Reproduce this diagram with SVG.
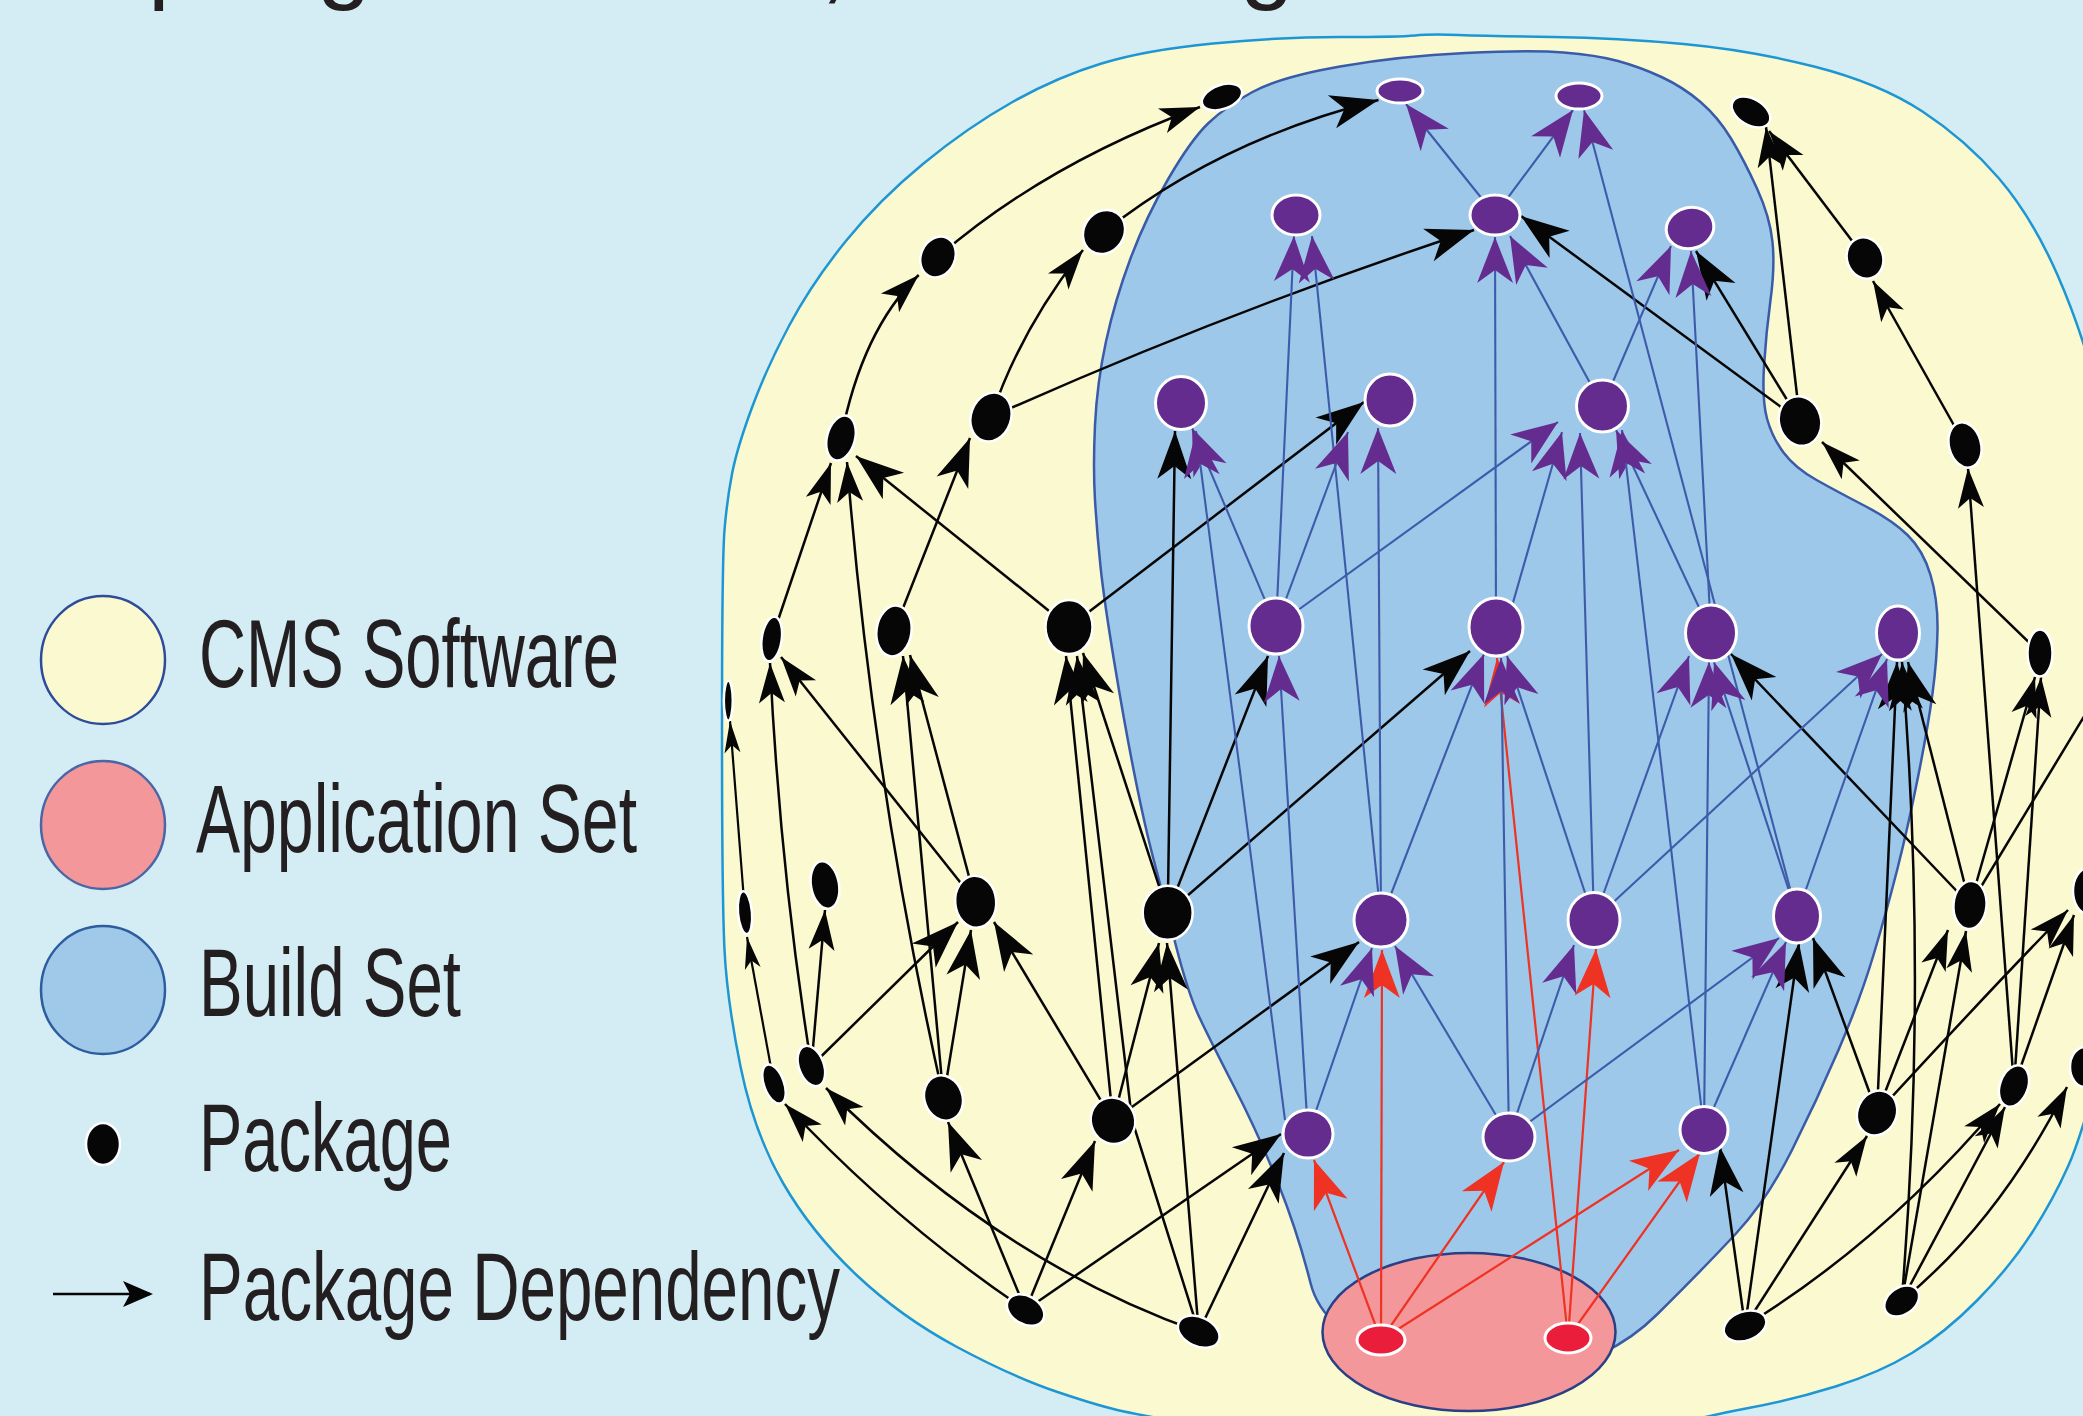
<svg xmlns="http://www.w3.org/2000/svg" width="2083" height="1416" viewBox="0 0 2083 1416">
  <style>
    .lbl { font-family: 'Liberation Sans Narrow', 'Liberation Sans', Arial, sans-serif; font-size: 97px; fill: #231F20; }
    .k  { fill: none; stroke: #060606; stroke-width: 2.5; marker-end: url(#ah); }
    .km { fill: none; stroke: #060606; stroke-width: 2.5; marker-end: url(#ahm); }
    .ks { fill: none; stroke: #060606; stroke-width: 2.2; marker-end: url(#ahs); }
    .k0 { fill: none; stroke: #060606; stroke-width: 2.5; }
    .b  { fill: none; stroke: #3E5BA9; stroke-width: 2.1; marker-end: url(#ap); }
    .r  { fill: none; stroke: #EE3224; stroke-width: 2.2; marker-end: url(#ar); }
    .pk { fill: #060606; stroke: #FFFFFF; stroke-width: 2.5; }
    .pb { fill: #652C8F; stroke: #FFFFFF; stroke-width: 3; }
    .pa { fill: #EA1D3B; stroke: #FFFFFF; stroke-width: 3; }
  </style>
  <defs>
    <marker id="ah" markerUnits="userSpaceOnUse" orient="auto" overflow="visible" markerWidth="1" markerHeight="1">
      <path d="M0,0 L-48,-17 L-35,0 L-48,17 Z" fill="#060606"/>
    </marker>
    <marker id="ahm" markerUnits="userSpaceOnUse" orient="auto" overflow="visible" markerWidth="1" markerHeight="1">
      <path d="M0,0 L-40,-13 L-30,0 L-40,13 Z" fill="#060606"/>
    </marker>
    <marker id="ahs" markerUnits="userSpaceOnUse" orient="auto" overflow="visible" markerWidth="1" markerHeight="1">
      <path d="M0,0 L-32,-8 L-24,0 L-32,8 Z" fill="#060606"/>
    </marker>
    <marker id="ap" markerUnits="userSpaceOnUse" orient="auto" overflow="visible" markerWidth="1" markerHeight="1">
      <path d="M0,0 L-46,-18 L-33,0 L-46,18 Z" fill="#652C8F"/>
    </marker>
    <marker id="ar" markerUnits="userSpaceOnUse" orient="auto" overflow="visible" markerWidth="1" markerHeight="1">
      <path d="M0,0 L-48,-18 L-35,0 L-48,18 Z" fill="#EE3224"/>
    </marker>
  </defs>

  <rect width="2083" height="1416" fill="#D4EDF4"/>

  <!-- descenders of the heading line above the frame -->
  <g id="heading" class="lbl">
    <text x="148" y="-9">p</text>
    <text x="317" y="-9">g</text>
    <text x="820" y="-9">,</text>
    <text x="1240" y="-9">g</text>
  </g>

  <!-- CMS software region -->
  <g id="cms-software">
    <path fill="#FBF9D0" stroke="#1E96D4" stroke-width="2.5" d="M724.5,950 Q722,900 722,730 Q722,560 724.5,530 Q727,500 732,474 Q737,448 752,407.5 Q767,367 789.5,325 Q812,283 845.5,241.5 Q879,200 923.5,163.5 Q968,127 1012.5,102 Q1057,77 1101.5,63.5 Q1146,50 1213,43.5 Q1280,37 1340,37 Q1400,37 1415,35.5 Q1430,34 1458.5,35 Q1487,36 1552.5,37 Q1618,38 1683.5,44 Q1749,50 1814,66.5 Q1879,83 1922.5,111.5 Q1966,140 1999,178.5 Q2032,217 2057.5,275 Q2083,333 2101.5,406.5 Q2120,480 2130,590 Q2140,700 2135,825 Q2130,950 2106.5,1041.5 Q2083,1133 2068,1166.5 Q2053,1200 2031.5,1233.5 Q2010,1267 1977.5,1300 Q1945,1333 1912,1353 Q1879,1373 1835.5,1386.5 Q1792,1400 1748.5,1408 Q1705,1416 1652.5,1430.5 Q1600,1445 1450,1445 Q1300,1445 1223,1430.5 Q1146,1416 1124,1411.5 Q1102,1407 1057.5,1392 Q1013,1377 957,1347 Q901,1317 856.5,1275 Q812,1233 783,1183 Q754,1133 740.5,1066.5 Q727,1000 724.5,950 Z"/>
  </g>

  <!-- build set region -->
  <g id="build-set">
    <path fill="#9EC8E9" stroke="#3A5BA8" stroke-width="2.5" d="M1095,500 Q1093,467 1095,425 Q1097,383 1106,341.5 Q1115,300 1130.5,258.5 Q1146,217 1168.5,178.5 Q1191,140 1208,123.5 Q1225,107 1252.5,92 Q1280,77 1340,66.5 Q1400,56 1465.5,53 Q1531,50 1563.5,52.5 Q1596,55 1618,61 Q1640,67 1661.5,77 Q1683,87 1700.5,102 Q1718,117 1731,138.5 Q1744,160 1757,188.5 Q1770,217 1772.5,242 Q1775,267 1770.5,300 Q1766,333 1764,366.5 Q1762,400 1767,418.5 Q1772,437 1783.5,452.5 Q1795,468 1816.5,480 Q1838,492 1865,506 Q1892,520 1907.5,535 Q1923,550 1930.5,575 Q1938,600 1937.5,630 Q1937,660 1932.5,693.5 Q1928,727 1918,777 Q1908,827 1897.5,868.5 Q1887,910 1873.5,955 Q1860,1000 1838.5,1050 Q1817,1100 1792,1150 Q1767,1200 1736,1233.5 Q1705,1267 1657,1314.5 Q1609,1362 1539.5,1371 Q1470,1380 1396.5,1356.5 Q1323,1333 1310.5,1283 Q1298,1233 1278,1183 Q1258,1133 1234,1086.5 Q1210,1040 1199,1016.5 Q1188,993 1175.5,944 Q1163,895 1154,861 Q1145,827 1135,777 Q1125,727 1114.5,663.5 Q1104,600 1100.5,566.5 Q1097,533 1095,500 Z"/>
  </g>

  <!-- application set region -->
  <g id="application-set">
    <ellipse cx="1469" cy="1332" rx="146.5" ry="79" fill="#F4979A" stroke="#2B3F84" stroke-width="2.5"/>
  </g>

  <!-- dependency connectors -->
  <g id="connectors">
    <!-- package dependencies, left -->
    <path class="km" d="M938,257 Q1045,164 1200,107"/>
    <path class="km" d="M841,438 Q862,330 918.7,275"/>
    <path class="k" d="M1104,232 Q1220,140 1378.5,100"/>
    <path class="km" d="M991,417 Q1020,330 1083,250"/>
    <path class="k" d="M991,417 Q1225,312 1474,230"/>
    <path class="k" d="M1069,627 L856,456"/>
    <path class="k" d="M1069,627 L1364,402"/>
    <path class="k" d="M894,631 L970,438"/>
    <path class="km" d="M771.7,639 L831,463"/>
    <path class="km" d="M943.5,1098 Q872,780 847,462"/>
    <path class="k" d="M943.5,1098 L903,656"/>
    <path class="k" d="M943.5,1098 L971,930"/>
    <path class="k" d="M975.7,901.7 L910,655"/>
    <path class="km" d="M975.7,901.7 L781,657"/>
    <path class="km" d="M811.4,1066 Q780,870 770,663"/>
    <path class="km" d="M811.4,1066 L825,910"/>
    <path class="k" d="M811.4,1066 L958,922"/>
    <path class="ks" d="M745,913 L730,721"/>
    <path class="ks" d="M774,1084 L747,937"/>
    <path class="km" d="M1025.6,1310 Q895,1222 785,1104"/>
    <path class="k" d="M1025.6,1310 L948,1122"/>
    <path class="k" d="M1025.6,1310 L1095,1141"/>
    <path class="k" d="M1025.6,1310 L1281,1134"/>
    <path class="km" d="M1198.7,1331.7 Q1000,1262 826,1088"/>
    <path class="k" d="M1198.7,1331.7 L1132,1120 L1077,656"/>
    <path class="k" d="M1198.7,1331.7 L1167,943"/>
    <path class="k" d="M1198.7,1331.7 L1284,1153"/>
    <path class="k" d="M1113,1120.7 L1066,656"/>
    <path class="k" d="M1113,1120.7 L994,922"/>
    <path class="k" d="M1113,1120.7 L1159,943"/>
    <path class="k" d="M1113,1120.7 L1359,942"/>
    <path class="k" d="M1167.7,912.7 L1083,653"/>
    <path class="k" d="M1167.7,912.7 L1175,431"/>
    <path class="k" d="M1167.7,912.7 L1268,656"/>
    <path class="k" d="M1167.7,912.7 L1470,651"/>
    <!-- package dependencies, right -->
    <path class="k" d="M1800,421 L1521,216"/>
    <path class="k" d="M1800,421 L1696,251"/>
    <path class="km" d="M1800,421 L1766,127"/>
    <path class="km" d="M1865,258 L1769,131"/>
    <path class="km" d="M1965,445 L1873,281"/>
    <path class="km" d="M2040,653 L1822,442"/>
    <path class="km" d="M2014,1086 L1968,468"/>
    <path class="km" d="M2014,1086 L2041,677"/>
    <path class="km" d="M2014,1086 L2074,915"/>
    <path class="k" d="M1970,905 L1731,654"/>
    <path class="k" d="M1970,905 L1908,662"/>
    <path class="km" d="M1970,905 L2035,677"/>
    <path class="k0" d="M1970,905 L2100,690"/>
    <path class="k" d="M1877,1113 L1813,938"/>
    <path class="k" d="M1877,1113 L1897,662"/>
    <path class="km" d="M1877,1113 L1948,930"/>
    <path class="km" d="M1877,1113 Q1990,990 2068,910"/>
    <path class="km" d="M1901.7,1301 L1966,931"/>
    <path class="k" d="M1901.7,1301 Q1928,980 1902,662"/>
    <path class="km" d="M1901.7,1301 L2005,1107"/>
    <path class="km" d="M1901.7,1301 Q2000,1220 2067,1087"/>
    <path class="k" d="M1745,1326 L1720,1147"/>
    <path class="k" d="M1745,1326 L1799,943"/>
    <path class="km" d="M1745,1326 L1867,1136"/>
    <path class="km" d="M1745,1326 Q1885,1240 2000,1104"/>
    <!-- application dependencies -->
    <path class="r" d="M1381,1340 L1314,1160"/>
    <path class="r" d="M1381,1340 L1382,950"/>
    <path class="r" d="M1381,1340 L1504,1162"/>
    <path class="r" d="M1381,1340 L1679,1150"/>
    <path class="r" d="M1568,1338 L1497,658"/>
    <path class="r" d="M1568,1338 L1596,949"/>
    <path class="r" d="M1568,1338 L1700,1153"/>
    <!-- build set dependencies -->
    <path class="b" d="M1495,215 L1406,104"/>
    <path class="b" d="M1495,215 L1573,110"/>
    <path class="b" d="M1797,915 L1584,110"/>
    <path class="b" d="M1276,626 L1294,236"/>
    <path class="b" d="M1381,920 L1312,236"/>
    <path class="b" d="M1276,626 L1192,428"/>
    <path class="b" d="M1285,1120 L1196,431"/>
    <path class="b" d="M1276,626 L1348,432"/>
    <path class="b" d="M1381,920 L1378,428"/>
    <path class="b" d="M1276,626 L1558,422"/>
    <path class="b" d="M1506,627 L1562,432"/>
    <path class="b" d="M1594,920 L1580,433"/>
    <path class="b" d="M1711,633 L1616,430"/>
    <path class="b" d="M1704,1130 L1622,430"/>
    <path class="b" d="M1496,627 L1495,237"/>
    <path class="b" d="M1602.5,406 L1510,236"/>
    <path class="b" d="M1602.5,406 L1671,246"/>
    <path class="b" d="M1711,633 L1691,251"/>
    <path class="b" d="M1308,1134 L1279,656"/>
    <path class="b" d="M1308,1134 L1372,948"/>
    <path class="b" d="M1509,1137 L1395,946"/>
    <path class="b" d="M1381,920 L1484,654"/>
    <path class="b" d="M1509,1137 L1501,658"/>
    <path class="b" d="M1594,920 L1507,656"/>
    <path class="b" d="M1509,1137 L1574,945"/>
    <path class="b" d="M1509,1137 L1779,938"/>
    <path class="b" d="M1594,920 L1689,656"/>
    <path class="b" d="M1797,915 L1714,662"/>
    <path class="b" d="M1704,1130 L1709,662"/>
    <path class="b" d="M1594,920 L1882,654"/>
    <path class="b" d="M1797,915 L1887,659"/>
    <path class="b" d="M1704,1130 L1786,942"/>
  </g>

  <!-- packages outside the build set -->
  <g id="pkg-b1"><ellipse class="pk" cx="1222" cy="97" rx="21" ry="12" transform="rotate(-20 1222 97)"/></g>
  <g id="pkg-b2"><ellipse class="pk" cx="938" cy="257" rx="17" ry="21" transform="rotate(25 938 257)"/></g>
  <g id="pkg-b3"><ellipse class="pk" cx="1104" cy="232" rx="20" ry="23" transform="rotate(35 1104 232)"/></g>
  <g id="pkg-b4"><ellipse class="pk" cx="841" cy="438" rx="14" ry="23" transform="rotate(15 841 438)"/></g>
  <g id="pkg-b5"><ellipse class="pk" cx="991" cy="417" rx="20" ry="25" transform="rotate(20 991 417)"/></g>
  <g id="pkg-b6"><ellipse class="pk" cx="1069" cy="627" rx="23.5" ry="27"/></g>
  <g id="pkg-b7"><ellipse class="pk" cx="894" cy="631" rx="17.5" ry="25.5" transform="rotate(8 894 631)"/></g>
  <g id="pkg-b8"><ellipse class="pk" cx="771.7" cy="639" rx="10" ry="22.5" transform="rotate(8 771.7 639)"/></g>
  <g id="pkg-b9"><ellipse class="pk" cx="728.3" cy="700.7" rx="4.5" ry="20"/></g>
  <g id="pkg-b10"><ellipse class="pk" cx="825" cy="885" rx="14" ry="24" transform="rotate(-10 825 885)"/></g>
  <g id="pkg-b11"><ellipse class="pk" cx="745" cy="912.7" rx="7" ry="21.5" transform="rotate(-5 745 912.7)"/></g>
  <g id="pkg-b12"><ellipse class="pk" cx="975.7" cy="901.7" rx="20.5" ry="26" transform="rotate(-5 975.7 901.7)"/></g>
  <g id="pkg-b13"><ellipse class="pk" cx="1167.7" cy="912.7" rx="25" ry="27"/></g>
  <g id="pkg-b14"><ellipse class="pk" cx="811.4" cy="1066" rx="12.5" ry="21" transform="rotate(-20 811.4 1066)"/></g>
  <g id="pkg-b15"><ellipse class="pk" cx="774" cy="1084" rx="10" ry="20.5" transform="rotate(-20 774 1084)"/></g>
  <g id="pkg-b16"><ellipse class="pk" cx="943.5" cy="1098" rx="19" ry="23" transform="rotate(-20 943.5 1098)"/></g>
  <g id="pkg-b17"><ellipse class="pk" cx="1113" cy="1120.7" rx="22" ry="23.5" transform="rotate(-25 1113 1120.7)"/></g>
  <g id="pkg-b18"><ellipse class="pk" cx="1025.6" cy="1310" rx="20" ry="14" transform="rotate(30 1025.6 1310)"/></g>
  <g id="pkg-b19"><ellipse class="pk" cx="1198.7" cy="1331.7" rx="22" ry="14.5" transform="rotate(25 1198.7 1331.7)"/></g>
  <g id="pkg-b20"><ellipse class="pk" cx="1751" cy="112" rx="21" ry="13" transform="rotate(30 1751 112)"/></g>
  <g id="pkg-b21"><ellipse class="pk" cx="1865" cy="258" rx="18" ry="21" transform="rotate(-20 1865 258)"/></g>
  <g id="pkg-b22"><ellipse class="pk" cx="1800" cy="421" rx="21" ry="25" transform="rotate(-15 1800 421)"/></g>
  <g id="pkg-b23"><ellipse class="pk" cx="1965" cy="445" rx="16" ry="23" transform="rotate(-15 1965 445)"/></g>
  <g id="pkg-b24"><ellipse class="pk" cx="2040" cy="653" rx="12.5" ry="23.5"/></g>
  <g id="pkg-b25"><ellipse class="pk" cx="1970" cy="905" rx="16.5" ry="24" transform="rotate(5 1970 905)"/></g>
  <g id="pkg-b26"><ellipse class="pk" cx="2088" cy="891" rx="15" ry="23"/></g>
  <g id="pkg-b27"><ellipse class="pk" cx="1877" cy="1113" rx="19.5" ry="23" transform="rotate(25 1877 1113)"/></g>
  <g id="pkg-b28"><ellipse class="pk" cx="2014" cy="1086" rx="14" ry="21.5" transform="rotate(20 2014 1086)"/></g>
  <g id="pkg-b29"><ellipse class="pk" cx="1745" cy="1326" rx="22" ry="14.5" transform="rotate(-20 1745 1326)"/></g>
  <g id="pkg-b30"><ellipse class="pk" cx="1901.7" cy="1301" rx="19" ry="13.5" transform="rotate(-35 1901.7 1301)"/></g>
  <g id="pkg-b31"><ellipse class="pk" cx="2085" cy="1067" rx="15" ry="20"/></g>

  <!-- packages in the build set -->
  <g id="pkg-p1"><ellipse class="pb" cx="1400" cy="91" rx="23" ry="12"/></g>
  <g id="pkg-p2"><ellipse class="pb" cx="1579" cy="96" rx="23" ry="13"/></g>
  <g id="pkg-p3"><ellipse class="pb" cx="1296" cy="215" rx="24" ry="20"/></g>
  <g id="pkg-p4"><ellipse class="pb" cx="1495" cy="215" rx="25" ry="20"/></g>
  <g id="pkg-p5"><ellipse class="pb" cx="1690" cy="228" rx="24" ry="20.5" transform="rotate(-15 1690 228)"/></g>
  <g id="pkg-p6"><ellipse class="pb" cx="1181" cy="403" rx="25.5" ry="26.5"/></g>
  <g id="pkg-p7"><ellipse class="pb" cx="1390" cy="400" rx="25" ry="26"/></g>
  <g id="pkg-p8"><ellipse class="pb" cx="1602.5" cy="406" rx="26" ry="26"/></g>
  <g id="pkg-p9"><ellipse class="pb" cx="1276" cy="626" rx="27" ry="28"/></g>
  <g id="pkg-p10"><ellipse class="pb" cx="1496" cy="627" rx="27" ry="29"/></g>
  <g id="pkg-p11"><ellipse class="pb" cx="1711" cy="633" rx="25.5" ry="28"/></g>
  <g id="pkg-p12"><ellipse class="pb" cx="1898" cy="633" rx="21.5" ry="27"/></g>
  <g id="pkg-p13"><ellipse class="pb" cx="1381" cy="920" rx="27" ry="27"/></g>
  <g id="pkg-p14"><ellipse class="pb" cx="1594" cy="920" rx="26" ry="27.5"/></g>
  <g id="pkg-p15"><ellipse class="pb" cx="1797" cy="916" rx="23.5" ry="27"/></g>
  <g id="pkg-p16"><ellipse class="pb" cx="1308" cy="1134" rx="25" ry="24"/></g>
  <g id="pkg-p17"><ellipse class="pb" cx="1509" cy="1137" rx="26" ry="24"/></g>
  <g id="pkg-p18"><ellipse class="pb" cx="1704" cy="1130" rx="24" ry="23.5"/></g>

  <!-- application packages -->
  <g id="pkg-r1"><ellipse class="pa" cx="1381" cy="1340" rx="24" ry="15"/></g>
  <g id="pkg-r2"><ellipse class="pa" cx="1568" cy="1338" rx="23" ry="15"/></g>

  <!-- legend -->
  <g id="legend">
    <g id="legend-cms">
      <ellipse cx="103" cy="660" rx="62" ry="64" fill="#FBF9D0" stroke="#2F4B9B" stroke-width="2.5"/>
      <text class="lbl" x="199" y="687" textLength="420" lengthAdjust="spacingAndGlyphs">CMS Software</text>
    </g>
    <g id="legend-app">
      <ellipse cx="103" cy="825" rx="62" ry="64" fill="#F4979A" stroke="#4A66A6" stroke-width="2.5"/>
      <text class="lbl" x="196" y="852" textLength="441" lengthAdjust="spacingAndGlyphs">Application Set</text>
    </g>
    <g id="legend-build">
      <ellipse cx="103" cy="990" rx="62" ry="64" fill="#9FC8E9" stroke="#2D5D9E" stroke-width="2.5"/>
      <text class="lbl" x="199" y="1016" textLength="262" lengthAdjust="spacingAndGlyphs">Build Set</text>
    </g>
    <g id="legend-package">
      <ellipse class="pk" cx="103" cy="1144" rx="17" ry="21"/>
      <text class="lbl" x="199" y="1171" textLength="253" lengthAdjust="spacingAndGlyphs">Package</text>
    </g>
    <g id="legend-dependency">
      <path d="M53,1294 L150,1294" fill="none" stroke="#060606" stroke-width="2.5"/>
      <path d="M153,1294 L123,1281 L130,1294 L123,1307 Z" fill="#060606"/>
      <text class="lbl" x="199" y="1320" textLength="641" lengthAdjust="spacingAndGlyphs">Package Dependency</text>
    </g>
  </g>
</svg>
